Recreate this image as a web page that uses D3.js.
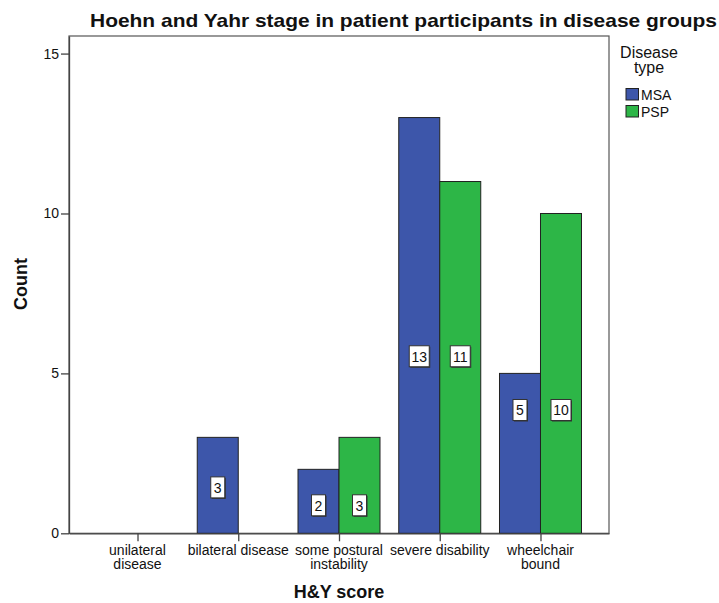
<!DOCTYPE html>
<html>
<head>
<meta charset="utf-8">
<script src="https://cdn.jsdelivr.net/npm/d3@7"></script>
<style>
  body { margin: 0; background: #fff; }
  svg { font-family: "Liberation Sans", Arial, sans-serif; }
</style>
</head>
<body>
<svg width="719" height="603"></svg>
<script>
// H&Y categories, two lines each for the tick labels
const categories = ["unilateral disease", "bilateral disease", "some postural instability", "severe disability", "wheelchair bound"]
const tickLines = [["unilateral", "disease"], ["bilateral disease"], ["some postural", "instability"], ["severe disability"], ["wheelchair", "bound"]]
const groups = ["MSA", "PSP"]
const msaCounts = [0, 3, 2, 13, 5]
const pspCounts = [0, 0, 3, 11, 10]
// height (in counts) where SPSS put the value boxes in each category
const labelLevel = [0, 1.42, 0.86, 5.52, 3.84]
const yTicks = [0, 5, 10, 15]

const colors = { MSA: "#3d56aa", PSP: "#2db647" }

const svg = d3.select("svg")

const plotLeft = 69, plotRight = 609, plotTop = 36, plotBottom = 533.3

const x = d3.scalePoint()
  .domain(categories)
  .range([plotLeft, plotRight])
  .padding(0.68)

const xSub = d3.scaleBand()
  .domain(groups)
  .range([-41, 41])

const y = d3.scaleLinear()
  .domain([0, 15.55])
  .range([plotBottom, plotTop])

const data = []
categories.forEach((c, i) => {
  data.push({ cat: c, group: "MSA", value: msaCounts[i], level: labelLevel[i] })
  data.push({ cat: c, group: "PSP", value: pspCounts[i], level: labelLevel[i] })
})
const shown = data.filter(d => d.value > 0)

// frame
svg.append("rect")
  .attr("x", plotLeft).attr("y", plotTop)
  .attr("width", plotRight - plotLeft).attr("height", plotBottom - plotTop)
  .attr("fill", "none")
  .attr("stroke", "#555")
  .attr("stroke-width", 1.2)

// bars
svg.append("g")
  .selectAll("rect")
  .data(shown)
  .enter()
  .append("rect")
  .attr("x", d => x(d.cat) + xSub(d.group))
  .attr("width", xSub.bandwidth())
  .attr("y", d => y(d.value))
  .attr("height", d => y(0) - y(d.value))
  .attr("fill", d => colors[d.group])
  .attr("stroke", "#222")
  .attr("stroke-width", 1)

// value boxes
const labels = svg.append("g")
  .selectAll("g")
  .data(shown)
  .enter()
  .append("g")
  .attr("transform", d => `translate(${x(d.cat) + xSub(d.group) + xSub.bandwidth() / 2},${y(d.level)})`)

labels.each(function(d) {
  const g = d3.select(this)
  const w = String(d.value).length > 1 ? 20 : 14
  g.append("rect")
    .attr("x", -w / 2 + 1).attr("y", -10).attr("width", w).attr("height", 21)
    .attr("fill", "#333")
  g.append("rect")
    .attr("x", -w / 2).attr("y", -11).attr("width", w).attr("height", 21)
    .attr("fill", "#fff")
    .attr("stroke", "#333")
    .attr("stroke-width", 1)
  g.append("text")
    .attr("y", 5)
    .attr("text-anchor", "middle")
    .attr("font-size", 14)
    .attr("fill", "#111")
    .text(d.value)
})

// y axis
const yAxis = svg.append("g")
  .attr("transform", `translate(${plotLeft},0)`)
  .call(d3.axisLeft(y).tickValues(yTicks).tickSize(8).tickPadding(2).tickSizeOuter(0))
yAxis.select(".domain").attr("stroke", "#444").attr("stroke-width", 1.3)
yAxis.selectAll(".tick line").attr("stroke", "#444").attr("stroke-width", 1.3)
yAxis.selectAll("text").attr("font-size", 14).attr("fill", "#111")
  .attr("font-family", "Liberation Sans, Arial, sans-serif")

// x axis
const xAxis = svg.append("g")
  .attr("transform", `translate(0,${plotBottom})`)
  .call(d3.axisBottom(x).tickSize(8).tickSizeOuter(0).tickFormat(""))
xAxis.select(".domain").attr("stroke", "#444").attr("stroke-width", 1.3)
xAxis.selectAll(".tick line").attr("stroke", "#444").attr("stroke-width", 1.3)

const tickText = svg.append("g")
  .selectAll("text")
  .data(categories)
  .enter()
  .append("text")
  .attr("x", d => x(d))
  .attr("y", 555)
  .attr("text-anchor", "middle")
  .attr("font-size", 14)
  .attr("fill", "#111")

tickText.each(function(d, i) {
  d3.select(this).selectAll("tspan")
    .data(tickLines[i])
    .enter()
    .append("tspan")
    .attr("x", x(d))
    .attr("dy", (t, j) => j === 0 ? 0 : 13.5)
    .text(t => t)
})

// titles
svg.append("text")
  .attr("x", 90)
  .attr("y", 26.5)
  .attr("font-size", 19)
  .attr("font-weight", "bold")
  .attr("textLength", 627)
  .attr("lengthAdjust", "spacingAndGlyphs")
  .attr("fill", "#111")
  .text("Hoehn and Yahr stage in patient participants in disease groups")

svg.append("text")
  .attr("x", (plotLeft + plotRight) / 2)
  .attr("y", 598)
  .attr("text-anchor", "middle")
  .attr("font-size", 18)
  .attr("font-weight", "bold")
  .attr("fill", "#111")
  .text("H&Y score")

svg.append("text")
  .attr("transform", "translate(27,284) rotate(-90)")
  .attr("text-anchor", "middle")
  .attr("font-size", 18)
  .attr("font-weight", "bold")
  .attr("fill", "#111")
  .text("Count")

// legend
const legend = svg.append("g")
legend.append("text")
  .attr("x", 649).attr("y", 58)
  .attr("text-anchor", "middle")
  .attr("font-size", 16)
  .attr("fill", "#111")
  .text("Disease")
legend.append("text")
  .attr("x", 649).attr("y", 73)
  .attr("text-anchor", "middle")
  .attr("font-size", 16)
  .attr("fill", "#111")
  .text("type")

const items = legend.selectAll("g.item")
  .data(groups)
  .enter()
  .append("g")
  .attr("class", "item")
  .attr("transform", (d, i) => `translate(626,${88.5 + i * 17})`)

items.append("rect")
  .attr("width", 12.5).attr("height", 11.5)
  .attr("fill", d => colors[d])
  .attr("stroke", "#222")
  .attr("stroke-width", 1)
items.append("text")
  .attr("x", 15).attr("y", 11)
  .attr("font-size", 14)
  .attr("fill", "#111")
  .text(d => d)
</script>
</body>
</html>
